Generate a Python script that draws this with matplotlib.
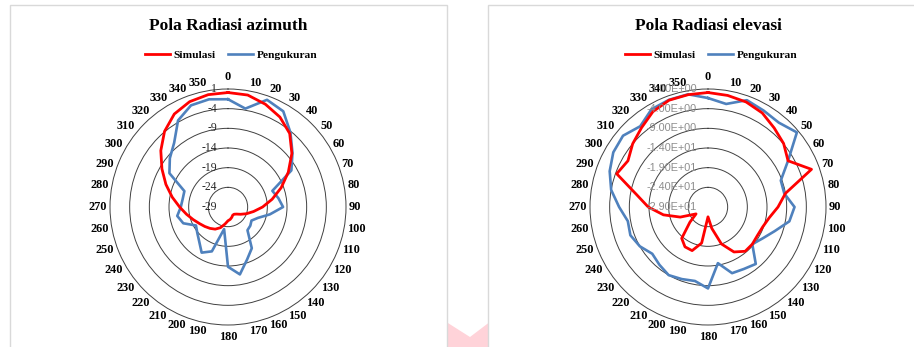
import numpy as np
import matplotlib
matplotlib.use("Agg")
import matplotlib.pyplot as plt
from matplotlib.patches import Rectangle, Polygon
from matplotlib.transforms import offset_copy

plt.rcParams["font.family"] = ["Liberation Serif", "DejaVu Serif"]

# angles of the radar spokes (degrees, clockwise from top)
angles = list(range(0, 360, 10))

# gain in dB, one value per 10 degrees
azimuth_sim = [0.1, -0.1, -1.2, -2.6, -4.6, -7.8, -11.3, -14.6, -17.6, -20.2,
               -22.4, -24.0, -25.3, -26.2, -26.6, -26.6, -26.2, -25.8, -25.5, -24.6,
               -23.4, -22.5, -21.9, -21.3, -20.6, -19.6, -18.3, -16.7, -14.6, -12.2,
               -9.6, -6.7, -3.9, -1.7, -0.5, 0.0]
azimuth_meas = [-1.6, -3.6, 0.0, -0.9, -4.3, -7.6, -10.4, -17.0, -16.0, -15.0,
                -18.2, -20.9, -22.1, -21.6, -21.3, -16.9, -14.8, -11.6, -13.8, -23.3,
                -17.0, -15.6, -17.6, -18.8, -19.6, -16.9, -15.9, -17.0, -17.3, -17.2,
                -11.8, -9.7, -7.7, -3.6, -1.5, -1.2]
elevation_sim = [0.1, -0.2, -0.6, -1.4, -2.8, -3.9, -5.5, -1.0, -9.0, -11.2,
                 -13.2, -14.2, -14.5, -14.3, -14.3, -15.8, -19.0, -23.5, -26.5, -19.7,
                 -17.2, -17.3, -18.6, -23.0, -25.5, -21.5, -17.5, -13.8, -10.5, -4.3,
                 -5.5, -4.0, -2.7, -1.0, -0.1, 0.0]
elevation_meas = [-1.3, -2.4, -0.1, -0.7, -1.0, 0.5, -5.5, -9.3, -9.3, -7.0,
                  -8.0, -11.0, -13.0, -14.3, -10.1, -10.8, -11.1, -14.5, -8.3, -9.9,
                  -9.5, -9.0, -9.8, -10.5, -9.0, -8.0, -8.3, -6.4, -4.0, -2.4,
                  -1.2, -0.8, -2.2, -0.3, 0.0, 0.1]

ring_levels = [1, -4, -9, -14, -19, -24, -29]
azimuth_ring_labels = ["1", "-4", "-9", "-14", "-19", "-24", "-29"]
elevation_ring_labels = ["1.00E+00", "-4.00E+00", "-9.00E+00", "-1.40E+01",
                         "-1.90E+01", "-2.40E+01", "-2.90E+01"]

RED = "#ff0000"
BLUE = "#4f81bd"
GRID = "#404040"

W, H = 914, 347
R_PX = 118          # radius of the outer ring in pixels
R_MIN, R_MAX = ring_levels[-1], ring_levels[0]

fig = plt.figure(figsize=(W / 100, H / 100), dpi=100)


def fx(px):
    return px / W


def fy(py):
    return 1 - py / H


def r_at(px):
    # radial data value sitting px pixels from the centre
    return R_MIN + (R_MAX - R_MIN) * px / R_PX


# pink corner mark between the two chart boxes
fig.patches.append(Polygon(
    [(fx(440), fy(318)), (fx(470), fy(337)), (fx(495), fy(318)),
     (fx(495), fy(350)), (fx(440), fy(350))],
    closed=True, transform=fig.transFigure, facecolor="#ffd3d9",
    edgecolor="none", zorder=0))

# chart boxes
for left, right in [(10, 447), (488, 930)]:
    fig.patches.append(Rectangle(
        (fx(left), fy(360)), fx(right - left), fy(5) - fy(360),
        transform=fig.transFigure, facecolor="white", edgecolor="#d9d9d9",
        linewidth=1.0, zorder=1))


def angle_label(ax, a):
    # label sits outside the ring: pushed sideways by alignment and
    # vertically by half its height times cos(angle)
    t = np.deg2rad(a)
    if a in (0, 180):
        ha, r_px = "center", 125
    else:
        ha, r_px = ("left" if a < 180 else "right"), 121
    shift = offset_copy(ax.transData, fig=fig, x=0, y=4.5 * np.cos(t), units="dots")
    ax.text(t, r_at(r_px), str(a), transform=shift, ha=ha, va="center",
            fontsize=8.8, fontweight="bold")


def radar(cx, title, sim, meas, ring_labels, label_kw):
    ax = fig.add_axes([fx(cx - R_PX), fy(207 + R_PX), fx(2 * R_PX),
                       fy(207 - R_PX) - fy(207 + R_PX)], projection="polar")
    ax.set_zorder(2)
    ax.patch.set_alpha(0)
    ax.set_theta_zero_location("N")
    ax.set_theta_direction(-1)
    ax.set_ylim(R_MIN, R_MAX)

    theta = np.deg2rad(angles + angles[:1])
    ax.plot(theta, sim + sim[:1], color=RED, lw=2.0, label="Simulasi", zorder=4)
    ax.plot(theta, meas + meas[:1], color=BLUE, lw=1.9, label="Pengukuran", zorder=3)

    ax.set_yticks(ring_levels[1:-1])
    ax.set_yticklabels([])
    ax.set_xticks([])
    ax.yaxis.grid(True, color=GRID, lw=0.7)
    ax.spines["polar"].set_color(GRID)
    ax.spines["polar"].set_linewidth(0.7)

    for a in angles:
        angle_label(ax, a)

    shift = offset_copy(ax.transData, fig=fig, x=-11, y=0, units="dots")
    for level, text in zip(ring_levels, ring_labels):
        ax.text(0, level, text, transform=shift, ha="right", va="center",
                zorder=5, **label_kw)

    fig.text(fx(cx), fy(26), title, ha="center", va="center",
             fontsize=12.5, fontweight="bold", zorder=3)
    fig.legend(*ax.get_legend_handles_labels(), loc="center",
               bbox_to_anchor=(fx(cx + 3), fy(55)), ncol=2, frameon=False,
               prop={"weight": "bold", "size": 8.2}, handlelength=2.2,
               handletextpad=0.3, columnspacing=1.1, borderpad=0)
    return ax


radar(228, "Pola Radiasi azimuth", azimuth_sim, azimuth_meas,
      azimuth_ring_labels, dict(fontsize=8.4, color="#262626"))
radar(708, "Pola Radiasi elevasi", elevation_sim, elevation_meas,
      elevation_ring_labels,
      dict(fontsize=7.8, color="#8c8c8c", family=["Liberation Sans", "DejaVu Sans"]))

fig.savefig("out.png", dpi=100)
